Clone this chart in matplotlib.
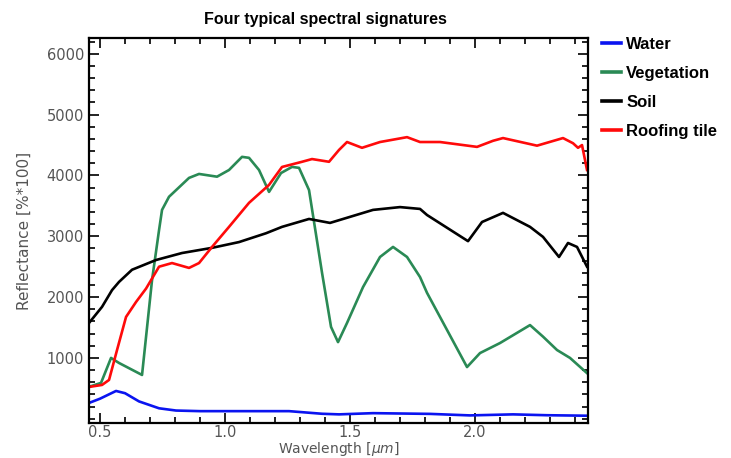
import matplotlib
matplotlib.use("Agg")
import matplotlib.pyplot as plt
from matplotlib.ticker import MultipleLocator, FormatStrFormatter

# wavelength (um) and reflectance (% * 100)
water_wl = [0.456, 0.50, 0.564, 0.60, 0.656, 0.736, 0.804, 0.90, 1.00, 1.10, 1.20,
            1.256, 1.388, 1.456, 1.592, 1.82, 1.98, 2.152, 2.288, 2.448]
water_r = [260, 330, 457, 420, 285, 172, 135, 125, 125, 125, 125,
           125, 82, 72, 92, 80, 55, 72, 58, 50]

veg_wl = [0.456, 0.504, 0.544, 0.576, 0.668, 0.708, 0.736, 0.748, 0.776, 0.856,
          0.896, 0.968, 1.016, 1.068, 1.096, 1.136, 1.176, 1.224, 1.268, 1.296,
          1.336, 1.388, 1.424, 1.452, 1.488, 1.552, 1.62, 1.672, 1.728, 1.78,
          1.808, 1.968, 2.02, 2.10, 2.22, 2.272, 2.328, 2.38, 2.448]
veg_r = [525, 590, 1000, 917, 720, 2280, 3100, 3434, 3650, 3960,
         4025, 3980, 4090, 4306, 4290, 4090, 3730, 4040, 4141, 4125,
         3760, 2400, 1510, 1260, 1575, 2165, 2660, 2825, 2660, 2330,
         2070, 850, 1080, 1245, 1540, 1350, 1130, 1000, 750]

soil_wl = [0.456, 0.508, 0.548, 0.576, 0.628, 0.724, 0.828, 0.948, 1.056, 1.164,
           1.228, 1.336, 1.42, 1.592, 1.70, 1.78, 1.808, 1.972, 2.028, 2.112,
           2.22, 2.272, 2.336, 2.372, 2.408, 2.448]
soil_r = [1575, 1840, 2115, 2250, 2450, 2610, 2725, 2810, 2905, 3050,
          3155, 3285, 3220, 3434, 3480, 3450, 3350, 2920, 3235, 3385,
          3155, 2990, 2660, 2890, 2825, 2500]

roof_wl = [0.456, 0.508, 0.536, 0.568, 0.604, 0.644, 0.684, 0.736, 0.788, 0.856,
           0.896, 0.948, 1.016, 1.096, 1.176, 1.228, 1.308, 1.348, 1.416, 1.456,
           1.488, 1.548, 1.62, 1.728, 1.78, 1.86, 2.008, 2.072, 2.112, 2.248,
           2.352, 2.392, 2.412, 2.428, 2.448]
roof_r = [523, 556, 638, 1130, 1674, 1920, 2140, 2500, 2560, 2480,
          2560, 2825, 3155, 3550, 3845, 4140, 4225, 4270, 4225, 4420,
          4550, 4455, 4550, 4630, 4550, 4550, 4470, 4570, 4615, 4490,
          4615, 4530, 4455, 4500, 4090]

labels = ['Water', 'Vegetation', 'Soil', 'Roofing tile']
colors = ['#0a14f0', '#2a8a55', '#000000', '#ff0a0a']

fig = plt.figure(figsize=(7.31, 4.58), dpi=100)
ax = fig.add_axes([0.1218, 0.0764, 0.6826, 0.8406])

lines = []
for wl, r, c, lab in zip([water_wl, veg_wl, soil_wl, roof_wl],
                         [water_r, veg_r, soil_r, roof_r], colors, labels):
    ln, = ax.plot(wl, r, color=c, lw=1.9, label=lab)
    lines.append(ln)

ax.set_xlim(0.456, 2.452)
ax.set_ylim(-70, 6260)
ax.set_xticks([0.5, 1.0, 1.5, 2.0])
ax.xaxis.set_major_formatter(FormatStrFormatter('%.1f'))
ax.xaxis.set_minor_locator(MultipleLocator(0.1))
ax.set_yticks([1000, 2000, 3000, 4000, 5000, 6000])
ax.yaxis.set_minor_locator(MultipleLocator(200))
ax.tick_params(which='both', direction='in', top=True, right=True,
               width=1.3, colors='#111111', labelcolor='#555555', labelsize=10.5)
ax.tick_params(axis='x', pad=1.5)
ax.tick_params(which='major', length=7)
ax.tick_params(which='minor', length=4)
for s in ax.spines.values():
    s.set_linewidth(1.6)

ax.set_xlabel(r'Wavelength [$\mu m$]', fontsize=10, color='#555555')
ax.xaxis.set_label_coords(0.5, -0.043)
ax.set_ylabel('Reflectance [%*100]', fontsize=11, color='#555555', labelpad=11)
fig.text(0.445, 0.958, 'Four typical spectral signatures', ha='center', va='center',
         fontsize=11.5, fontweight='bold', family='Liberation Sans')

leg = ax.legend(handles=lines, loc='upper left', bbox_to_anchor=(1.015, 1.02),
                frameon=False, handlelength=1.1, handletextpad=0.35,
                labelspacing=0.84, borderaxespad=0,
                prop={'family': 'Liberation Sans', 'weight': 'bold', 'size': 12})
for h in leg.legend_handles:
    h.set_linewidth(2.6)

fig.savefig('out.png', dpi=100)
